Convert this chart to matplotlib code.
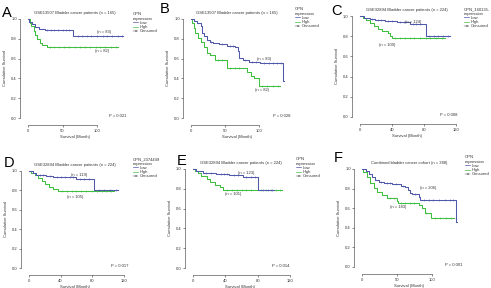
import numpy as np
import matplotlib
matplotlib.use('Agg')
import matplotlib.pyplot as plt
from matplotlib.lines import Line2D

plt.rcParams['font.family'] = ['Liberation Sans', 'DejaVu Sans']

W, H = 491, 288
BLUE = '#5058ab'
GREEN = '#3fbf3f'
GREY = '#333333'

# ---- data (months, survival) ----
a_low_t = [0, 2, 6, 10, 16, 24, 65, 138]
a_low_s = [1.0, 0.97, 0.95, 0.92, 0.90, 0.884, 0.833, 0.833]
a_low_c = [28, 33, 38, 44, 50, 55, 60, 72, 78, 85, 92, 100, 108, 115, 122, 130, 136]
a_high_t = [0, 3, 5, 8, 10, 13, 17, 20, 27, 130]
a_high_s = [1.0, 0.96, 0.93, 0.88, 0.84, 0.80, 0.76, 0.74, 0.72, 0.72]
a_high_c = [32, 38, 45, 52, 60, 68, 75, 82, 90, 98, 105, 112, 120, 128]

b_low_t = [0, 4, 9, 14, 16, 19, 24, 28, 33, 41, 53, 65, 69, 71, 77, 85, 102, 136, 137]
b_low_s = [1.0, 0.98, 0.96, 0.93, 0.86, 0.83, 0.79, 0.77, 0.76, 0.75, 0.73, 0.72,
           0.68, 0.61, 0.59, 0.57, 0.555, 0.37, 0.37]
b_low_c = [30, 45, 58, 62, 80, 90, 95, 108, 115, 120, 126, 132]
b_high_t = [0, 1.5, 4, 6, 10, 14, 19, 24, 28, 36, 53, 83, 88, 93, 100, 131]
b_high_s = [1.0, 0.96, 0.91, 0.86, 0.81, 0.77, 0.72, 0.66, 0.64, 0.59, 0.51, 0.46,
            0.42, 0.40, 0.32, 0.32]
b_high_c = [40, 45, 58, 64, 70, 105, 112, 120, 128]

c_low_t = [0, 5, 12, 19, 31, 46, 62, 82, 112]
c_low_s = [1.0, 0.98, 0.97, 0.96, 0.95, 0.94, 0.92, 0.80, 0.80]
c_low_c = [15, 22, 26, 35, 40, 50, 55, 66, 70, 75, 86, 92, 98, 104, 110]
c_high_t = [0, 4, 8, 12, 17, 23, 27, 35, 37, 40, 106]
c_high_s = [1.0, 0.98, 0.96, 0.93, 0.90, 0.87, 0.85, 0.83, 0.80, 0.78, 0.78]
c_high_c = [44, 50, 56, 62, 68, 75, 82, 88, 95, 102]

d_low_t = [0, 5, 9, 22, 30, 60, 82, 113]
d_low_s = [1.0, 0.98, 0.96, 0.95, 0.94, 0.92, 0.80, 0.80]
d_low_c = [14, 18, 26, 35, 40, 46, 52, 56, 65, 70, 76, 88, 95, 102, 110]
d_high_t = [0, 3, 7, 11, 16, 20, 25, 30, 37, 108]
d_high_s = [1.0, 0.98, 0.96, 0.93, 0.90, 0.87, 0.84, 0.81, 0.79, 0.79]
d_high_c = [42, 48, 54, 60, 66, 72, 80, 86, 92, 98, 104]

e_low_t = [0, 4, 12, 29, 45, 62, 80, 100]
e_low_s = [1.0, 0.98, 0.96, 0.95, 0.94, 0.92, 0.79, 0.79]
e_low_c = [16, 22, 34, 38, 42, 50, 55, 66, 72, 76, 86, 92, 98]
e_high_t = [0, 2, 6, 10, 17, 21, 27, 33, 37, 110]
e_high_s = [1.0, 0.98, 0.96, 0.93, 0.90, 0.87, 0.84, 0.82, 0.79, 0.79]
e_high_c = [42, 48, 54, 60, 66, 72, 84, 90, 96, 102, 108]

f_low_t = [0, 5, 10, 14, 19, 24, 31, 43, 55, 62, 65, 68, 71, 81, 83, 134, 136]
f_low_s = [1.0, 0.98, 0.95, 0.92, 0.89, 0.87, 0.86, 0.85, 0.83, 0.82, 0.79, 0.76,
           0.74, 0.71, 0.68, 0.46, 0.46]
f_low_c = [27, 36, 40, 48, 58, 75, 88, 95, 102, 110, 118, 125, 130]
f_high_t = [0, 2, 7, 12, 17, 21, 29, 36, 50, 52, 81, 86, 90, 98, 131]
f_high_s = [1.0, 0.97, 0.92, 0.86, 0.81, 0.77, 0.73, 0.70, 0.67, 0.65, 0.63, 0.60,
            0.55, 0.50, 0.50]
f_high_c = [40, 45, 56, 62, 68, 74, 92, 104, 112, 120, 127]

# title, legend title, p value, n labels (text, t, s)
panels = [
    dict(letter='A', title='GSE13507 Bladder cancer patients (n = 165)', leg='OPN\nexpression',
         p='P = 0.021', low=(a_low_t, a_low_s, a_low_c), high=(a_high_t, a_high_s, a_high_c),
         n_low=('(n = 83)', 110, 0.865), n_high=('(n = 82)', 108, 0.675),
         x0=28, k=0.69, y1=19, y0=118, xmax=140, xticks=[0, 50, 100],
         legpos=(131, 10), letpos=(2, 17), ptx=118),
    dict(letter='B', title='GSE13507 Bladder cancer patients (n = 165)', leg='OPN\nexpression',
         p='P = 0.028', low=(b_low_t, b_low_s, b_low_c), high=(b_high_t, b_high_s, b_high_c),
         n_low=('(n = 83)', 108, 0.595), n_high=('(n = 82)', 104, 0.28),
         x0=191, k=0.68, y1=19, y0=118, xmax=140, xticks=[0, 50, 100],
         legpos=(293, 5), letpos=(160, 13), ptx=120),
    dict(letter='C', title='GSE32894 Bladder cancer patients (n = 224)', leg='OPN_160135-\nexpression',
         p='P = 0.008', low=(c_low_t, c_low_s, c_low_c), high=(c_high_t, c_high_s, c_high_c),
         n_low=('(n = 124)', 67, 0.945), n_high=('(n = 100)', 34, 0.715),
         x0=360, k=0.8, y1=16, y0=117, xmax=122, xticks=[0, 40, 80, 120],
         legpos=(462, 5), letpos=(331, 15), ptx=100),
    dict(letter='D', title='GSE32894 Bladder cancer patients (n = 224)', leg='OPN_2374449\nexpression',
         p='P = 0.017', low=(d_low_t, d_low_s, d_low_c), high=(d_high_t, d_high_s, d_high_c),
         n_low=('(n = 119)', 64, 0.955), n_high=('(n = 105)', 59, 0.735),
         x0=29, k=0.79, y1=171, y0=268, xmax=122, xticks=[0, 40, 80, 120],
         legpos=(131, 155), letpos=(4, 167), ptx=104),
    dict(letter='E', title='GSE32894 Bladder cancer patients (n = 224)', leg='OPN\nexpression',
         p='P = 0.014', low=(e_low_t, e_low_s, e_low_c), high=(e_high_t, e_high_s, e_high_c),
         n_low=('(n = 123)', 66, 0.955), n_high=('(n = 101)', 50, 0.745),
         x0=193, k=0.81, y1=169, y0=268, xmax=122, xticks=[0, 40, 80, 120],
         legpos=(294, 155), letpos=(177, 165), ptx=98),
    dict(letter='F', title='Combined bladder cancer cohort (n = 388)', leg='OPN\nexpression',
         p='P = 0.001', low=(f_low_t, f_low_s, f_low_c), high=(f_high_t, f_high_s, f_high_c),
         n_low=('(n = 206)', 95, 0.805), n_high=('(n = 183)', 52, 0.615),
         x0=362, k=0.7, y1=169, y0=267, xmax=140, xticks=[0, 50, 100],
         legpos=(463, 153), letpos=(334, 162), ptx=118),
]

fig = plt.figure(figsize=(W / 100, H / 100), dpi=100)
fs = 3.0


def surv_at(t, s, c):
    idx = np.searchsorted(t, c, side='right') - 1
    return np.asarray(s)[idx]


def draw_panel(p):
    xmin = -5
    u = p['y0'] - p['y1']
    left = p['x0'] + xmin * p['k']
    right = p['x0'] + p['xmax'] * p['k']
    top = p['y1'] - 0.04 * u
    bot = p['y0'] + 0.03 * u
    ax = fig.add_axes([left / W, 1 - bot / H, (right - left) / W, (bot - top) / H])
    ax.set_xlim(xmin, p['xmax'])
    ax.set_ylim(-0.03, 1.04)
    ax.patch.set_visible(False)

    for (t, s, c), col in [(p['high'], GREEN), (p['low'], BLUE)]:
        ax.step(t, s, where='post', color=col, lw=0.75)
        ax.plot(c, surv_at(t, s, c), ls='none', marker='+', ms=1.8, mew=0.4, color=col)

    for sp in ['top', 'right']:
        ax.spines[sp].set_visible(False)
    for sp in ['left', 'bottom']:
        ax.spines[sp].set_position(('outward', 3))
        ax.spines[sp].set_linewidth(0.4)
        ax.spines[sp].set_color(GREY)
    ax.spines['left'].set_bounds(0, 1)
    ax.spines['bottom'].set_bounds(p['xticks'][0], p['xticks'][-1])
    ax.set_yticks(np.arange(0, 1.01, 0.2))
    ax.set_yticklabels(['0.0', '0.2', '0.4', '0.6', '0.8', '1.0'])
    ax.set_xticks(p['xticks'])
    ax.tick_params(labelsize=fs, length=1.5, width=0.4, pad=1, colors=GREY)
    ax.set_ylabel('Cumulative Survival', fontsize=fs, labelpad=3, color=GREY)
    ax.set_xlabel('Survival (Month)', fontsize=fs, labelpad=1.5, color=GREY)
    ax.set_title(p['title'], fontsize=fs, pad=1, color=GREY)

    for txt, tx, ty in [p['n_low'], p['n_high']]:
        ax.text(tx, ty, txt, fontsize=fs, color=GREY, ha='center', va='center')
    ax.text(p['ptx'], 0.0, p['p'], fontsize=fs, color=GREY, ha='left', va='bottom')

    handles = [Line2D([], [], color=BLUE, lw=0.5),
               Line2D([], [], color=GREEN, lw=0.5),
               Line2D([], [], color=GREY, lw=0.3, marker='+', ms=2, mew=0.3)]
    lx, ly = p['legpos']
    leg = ax.legend(handles, ['Low', 'High', 'Censored'], title=p['leg'],
                    loc='upper left', bbox_to_anchor=(lx / W, 1 - ly / H),
                    bbox_transform=fig.transFigure, frameon=False, fontsize=fs,
                    title_fontsize=fs, handlelength=1.2, labelspacing=0.05,
                    handletextpad=0.3, borderpad=0, alignment='left')
    for txt in leg.get_texts():
        txt.set_color(GREY)
    leg.get_title().set_color(GREY)

    fig.text(p['letpos'][0] / W, 1 - p['letpos'][1] / H, p['letter'],
             fontsize=10.5, ha='left', va='baseline', color='black')


for p in panels:
    draw_panel(p)

fig.savefig('out.png', dpi=100)
